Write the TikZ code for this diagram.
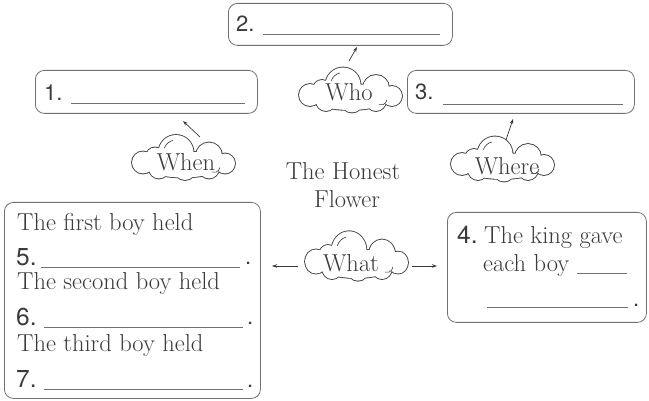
\documentclass[tikz,border=0pt]{standalone}
\usepackage{fontspec}
\newfontfamily\numfont{TeX Gyre Heros}
\usetikzlibrary{arrows.meta}
\definecolor{ink}{HTML}{3A3A3A}
\definecolor{edge}{HTML}{707070}
\begin{document}
\begin{tikzpicture}[x=1pt,y=-1pt,
  box/.style={draw=edge, line width=0.8pt, rounded corners=9pt, anchor=north west, inner sep=0pt},
  txt/.style={anchor=base west, inner sep=0pt, text=ink, font=\fontsize{24.5}{28}\selectfont\addfontfeatures{FakeBold=0.35}},
  num/.style={anchor=base west, inner sep=0pt, text=ink, font=\numfont\fontsize{22}{24}\selectfont},
  bignum/.style={num, font=\numfont\fontsize{24.5}{28}\selectfont},
  blank/.style={draw=edge, line width=0.7pt},
  decoline/.style={draw=ink, line width=0.6pt},
  cloudpic/.pic={
    \draw[ink, line width=1.7pt]
      (0,7) ellipse [x radius=40, y radius=13]
      (-40,5) circle [radius=11]
      (-28,-1) circle [radius=9]
      (-7,-5) circle [radius=17.5]
      (26,-2) circle [radius=13]
      (42,6) circle [radius=10]
      (-24,11) circle [radius=10]
      (2,11.5) circle [radius=11]
      (26,11) circle [radius=10];
    \fill[white]
      (0,7) ellipse [x radius=40, y radius=13]
      (-40,5) circle [radius=11]
      (-28,-1) circle [radius=9]
      (-7,-5) circle [radius=17.5]
      (26,-2) circle [radius=13]
      (42,6) circle [radius=10]
      (-24,11) circle [radius=10]
      (2,11.5) circle [radius=11]
      (26,11) circle [radius=10];
    \draw[decoline] (-7,-5) ++(200:12.5) arc [start angle=200, end angle=255, radius=12.5];
    \draw[decoline] (31,9) ++(10:6) arc [start angle=10, end angle=110, radius=6];
  },
  arr/.style={draw=ink, line width=0.7pt, -{Stealth[length=5pt,width=3.5pt]}}
]
\useasboundingbox (0,0) rectangle (649,401);
\fill[white] (0,0) rectangle (649,401);

% boxes
\node[box, minimum width=224pt, minimum height=42pt] (b2) at (228,3) {};
\node[box, minimum width=222pt, minimum height=43pt] (b1) at (35,70) {};
\node[box, minimum width=227pt, minimum height=43pt] (b3) at (407,70) {};
\node[box, minimum width=256pt, minimum height=196pt] (b5) at (4,202) {};
\node[box, minimum width=199pt, minimum height=110pt] (b4) at (447,212) {};

% box texts
\node[num] (n2) at (236,32) {2.};
\draw[blank] (263,34) -- (440,34);
\node[num] (n1) at (44,101) {1.};
\draw[blank] (71,103) -- (245,103);
\node[num] (n3) at (415,100) {3.};
\draw[blank] (443,104) -- (623,104);

\node[txt] (l1) at (17,231) {The first boy held};
\node[bignum] (n5) at (16,266) {5.};
\draw[blank] (41,267) -- (240,267);
\node[num] (d5) at (245,265) {.};
\node[txt] (l2) at (17,290) {The second boy held};
\node[bignum] (n6) at (16,326) {6.};
\draw[blank] (44,327) -- (243,327);
\node[num] (d6) at (247,325) {.};
\node[txt] (l3) at (17,352) {The third boy held};
\node[bignum] (n7) at (16,388) {7.};
\draw[blank] (44,389) -- (243,389);
\node[num] (d7) at (247,388) {.};

\node[bignum] (n4) at (457,244) {4.};
\node[txt] (l4) at (484,244) {The king gave};
\node[txt] (l5) at (483,272) {each boy};
\draw[blank] (577,273) -- (627,273);
\draw[blank] (487,307) -- (628,307);
\node[num] (d4) at (633,307) {.};

% title
\node[txt, anchor=base] (t1) at (343,180) {The Honest};
\node[txt, anchor=base] (t2) at (347,208) {Flower};

% clouds
\pic at (350,90) {cloudpic};
\node[txt, anchor=base] (who) at (349,101) {Who};
\pic at (183,157.5) {cloudpic};
\node[txt, anchor=base] (when) at (186,171) {When};
\pic at (502,159) {cloudpic};
\node[txt, anchor=base] (where) at (507,175) {Where};
\pic[yscale=1.1] at (356,256) {cloudpic};
\node[txt, anchor=base] (what) at (351,272) {What};

% connectors
\coordinate (whoT) at (349,61);
\coordinate (whoH) at (357,47);
\draw[arr] (whoT) -- (whoH);
\coordinate (whenT) at (200,137);
\coordinate (whenH) at (183,121);
\draw[arr] (whenT) -- (whenH);
\coordinate (whereT) at (506,140);
\coordinate (whereH) at (513,119);
\draw[arr] (whereT) -- (whereH);
\coordinate (whatLs) at (298,266);
\coordinate (whatL) at (272,266);
\coordinate (whatRs) at (412,266);
\coordinate (whatR) at (437,266);
\draw[arr] (whatLs) -- (whatL);
\draw[arr] (whatRs) -- (whatR);
\end{tikzpicture}
\end{document}
